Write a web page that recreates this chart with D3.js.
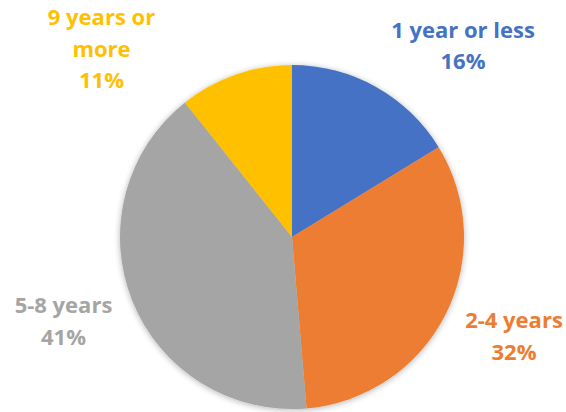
<!DOCTYPE html>
<html>
<head>
    <title>Years pie</title>
    <script src="https://d3js.org/d3.v7.min.js"></script>
    <style>
        body { margin: 0; background: #fff; }
        .lbl { font-family: "Open Sans", sans-serif; font-weight: bold; font-size: 22px; }
    </style>
</head>
<body>
    <div class="chart"></div>
    <script>
        // Data (slice sizes; labels show rounded %)
        const categories = ["1 year or less", "2-4 years", "5-8 years", "9 years or more"];
        const values = [16.25, 32.4, 40.65, 10.7];
        const pctLabels = ["16%", "32%", "41%", "11%"];
        const colors = ["#4472C4", "#ED7D31", "#A5A5A5", "#FFC000"];
        // label lines; position = center x, first baseline y
        const nameLines = [["1 year or less"], ["2-4 years"], ["5-8 years"], ["9 years or", "more"]];
        const labelPos = [[463, 37.5], [514, 328], [63.5, 313], [101.5, 25]];

        const width = 566, height = 412;
        const cx = 292, cy = 237, radius = 172;

        const svg = d3.select(".chart")
            .append("svg")
            .attr("width", width)
            .attr("height", height);

        // soft shadow
        const defs = svg.append("defs");
        const f = defs.append("filter").attr("id", "sh")
            .attr("x", "-10%").attr("y", "-10%").attr("width", "120%").attr("height", "120%");
        f.append("feGaussianBlur").attr("in", "SourceAlpha").attr("stdDeviation", 3);
        f.append("feOffset").attr("dx", 0).attr("dy", 1).attr("result", "b");
        f.append("feComponentTransfer").append("feFuncA").attr("type", "linear").attr("slope", 0.3);
        const m = f.append("feMerge");
        m.append("feMergeNode");
        m.append("feMergeNode").attr("in", "SourceGraphic");

        const pie = d3.pie().sort(null).value(d => d);
        const arc = d3.arc().innerRadius(0).outerRadius(radius);

        const g = svg.append("g")
            .attr("transform", `translate(${cx}, ${cy})`)
            .attr("filter", "url(#sh)");

        g.selectAll("path")
            .data(pie(values))
            .enter()
            .append("path")
            .attr("d", arc)
            .attr("fill", (d, i) => colors[i]);

        // Labels
        nameLines.forEach((lines, i) => {
            const t = svg.append("text")
                .attr("class", "lbl")
                .attr("fill", colors[i])
                .attr("text-anchor", "middle");
            lines.concat([pctLabels[i]]).forEach((s, j) => {
                t.append("tspan")
                    .attr("x", labelPos[i][0])
                    .attr("y", labelPos[i][1] + j * 31.5)
                    .text(s);
            });
        });
    </script>
</body>
</html>
